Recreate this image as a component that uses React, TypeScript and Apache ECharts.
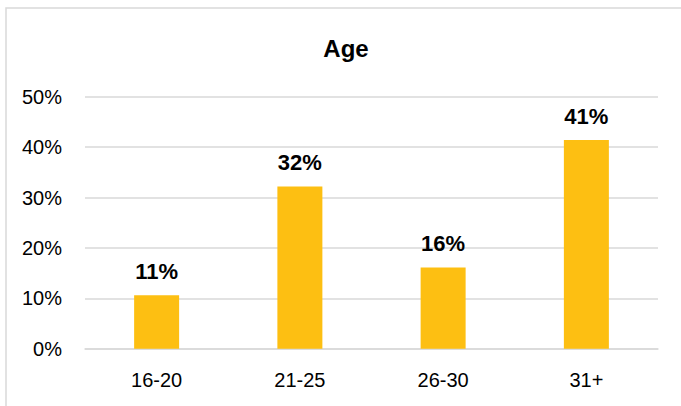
import React, { useEffect, useRef } from "react";
import * as echarts from "echarts";

const categories = ["16-20", "21-25", "26-30", "31+"];
const values = [0.106, 0.322, 0.161, 0.414];
const yTicks = [0, 0.1, 0.2, 0.3, 0.4, 0.5];
const title = "Age";

export default function App() {
  const ref = useRef<HTMLDivElement>(null);
  useEffect(() => {
    const chart = echarts.init(ref.current!, null, { renderer: "svg" });
    chart.setOption({
      animation: false,
      backgroundColor: "#ffffff",
      textStyle: { fontFamily: "Liberation Sans, Arial, sans-serif" },
      graphic: [
        {
          type: "rect",
          shape: { x: 6, y: 8, width: 720, height: 450 },
          style: { fill: "none", stroke: "#d9d9d9", lineWidth: 1.5 },
          silent: true,
        },
        {
          type: "text",
          x: 346,
          y: 48,
          style: {
            text: title,
            fontFamily: "Liberation Sans, Arial, sans-serif",
            fontWeight: "bold",
            fontSize: 24,
            fill: "#000000",
            textAlign: "center",
            textVerticalAlign: "middle",
          },
        },
      ],
      grid: { left: 85, right: 23, top: 96.7, bottom: 57.3, containLabel: false },
      xAxis: {
        type: "category",
        data: categories,
        axisLine: { show: true, lineStyle: { color: "#d9d9d9", width: 1.5 } },
        axisTick: { show: false },
        axisLabel: { color: "#000000", fontSize: 20, margin: 21 },
      },
      yAxis: {
        type: "value",
        min: yTicks[0],
        max: yTicks[yTicks.length - 1],
        interval: 0.1,
        axisLine: { show: false },
        axisTick: { show: false },
        splitLine: { lineStyle: { color: "#d9d9d9", width: 1.5 } },
        axisLabel: {
          color: "#000000",
          fontSize: 20,
          margin: 23,
          formatter: (v: number) => Math.round(v * 100) + "%",
        },
      },
      series: [
        {
          type: "bar",
          data: values,
          barWidth: 45,
          itemStyle: { color: "#FDBF12" },
          label: {
            show: true,
            position: "top",
            distance: 13,
            fontFamily: "Liberation Sans, Arial, sans-serif",
            fontWeight: "bold",
            fontSize: 22,
            color: "#000000",
            formatter: (p: any) => Math.round(p.value * 100) + "%",
          },
        },
      ],
    });
    return () => chart.dispose();
  }, []);
  return <div ref={ref} style={{ width: 681, height: 406, position: "absolute", left: 0, top: 0 }} />;
}
